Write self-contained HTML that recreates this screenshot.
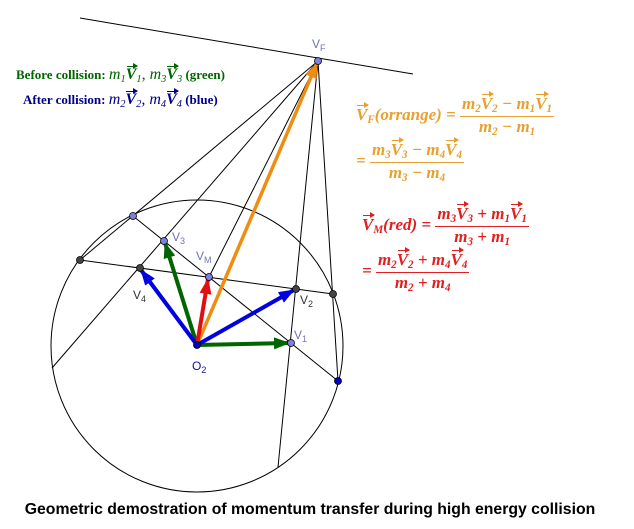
<!DOCTYPE html>
<html><head><meta charset="utf-8"><style>
body{margin:0;width:634px;height:529px;background:#fff;position:relative;overflow:hidden;font-family:"Liberation Serif",serif}
.a{position:absolute;white-space:nowrap}
.v{position:relative;display:inline-block;font-weight:bold;font-style:italic}
.v::before{content:"";position:absolute;left:1px;right:-1px;top:0px;border-top:1.3px solid currentColor}
.v::after{content:"";position:absolute;right:-2px;top:-3px;border-left:5px solid currentColor;border-top:3px solid transparent;border-bottom:3px solid transparent}
.fr{display:inline-block;vertical-align:middle;text-align:center}
.fr>span{display:block;padding:0 2px}
.fr>span.n{border-bottom:1.3px solid currentColor;padding-bottom:1px}
i{font-style:italic}
sub{font-size:65%;vertical-align:-3px}
.m{font-size:17px;font-style:italic;font-weight:bold}
.s{font-size:16px;font-style:italic}
</style></head><body>
<svg width="634" height="529" style="position:absolute;left:0;top:0">
<defs>
<marker id="ag" markerWidth="16" markerHeight="12" refX="15" refY="6" orient="auto" markerUnits="userSpaceOnUse"><path d="M0,0L16,6L0,12z" fill="#006400"/></marker>
<marker id="ab" markerWidth="16" markerHeight="12" refX="15" refY="6" orient="auto" markerUnits="userSpaceOnUse"><path d="M0,0L16,6L0,12z" fill="#0000e0"/></marker>
<marker id="ar" markerWidth="16" markerHeight="12" refX="15" refY="6" orient="auto" markerUnits="userSpaceOnUse"><path d="M0,0L16,6L0,12z" fill="#e01010"/></marker>
<marker id="ao" markerWidth="16" markerHeight="12" refX="15" refY="6" orient="auto" markerUnits="userSpaceOnUse"><path d="M0,0L16,6L0,12z" fill="#f08c10"/></marker>
</defs>
<g stroke="#000" stroke-width="1" fill="none">
<circle cx="197" cy="346" r="146"/>
<line x1="80" y1="18" x2="413" y2="74"/>
<line x1="318" y1="61" x2="80" y2="260"/>
<line x1="318" y1="61" x2="52" y2="368"/>
<line x1="318" y1="61" x2="209" y2="277"/>
<line x1="318" y1="61" x2="278" y2="467"/>
<line x1="318" y1="61" x2="338" y2="381"/>
<line x1="80" y1="260" x2="333" y2="294"/>
<line x1="133" y1="216" x2="338" y2="381"/>
</g>
<g stroke-width="4" fill="none">
<line x1="197" y1="345" x2="317" y2="63" stroke="#f08c10" marker-end="url(#ao)" stroke-width="3.5"/>
<line x1="197" y1="345" x2="289" y2="343" stroke="#006400" marker-end="url(#ag)"/>
<line x1="197" y1="345" x2="165" y2="243" stroke="#006400" marker-end="url(#ag)"/>
<line x1="197" y1="345" x2="294" y2="290" stroke="#0000e0" marker-end="url(#ab)"/>
<line x1="197" y1="345" x2="141" y2="270" stroke="#0000e0" marker-end="url(#ab)"/>
<line x1="197" y1="345" x2="208" y2="279" stroke="#e01010" marker-end="url(#ar)"/>
</g>
<g stroke="#000" stroke-width="0.8">
<circle cx="318" cy="61" r="3.5" fill="#7f7fe0"/>
<circle cx="291" cy="343" r="3.5" fill="#7f7fe0"/>
<circle cx="164" cy="241" r="3.5" fill="#7f7fe0"/>
<circle cx="209" cy="277" r="3.5" fill="#7f7fe0"/>
<circle cx="133" cy="216" r="3.5" fill="#7f7fe0"/>
<circle cx="296" cy="289" r="3.5" fill="#444"/>
<circle cx="140" cy="268" r="3.5" fill="#444"/>
<circle cx="80" cy="260" r="3.5" fill="#444"/>
<circle cx="333" cy="294" r="3.5" fill="#444"/>
<circle cx="338" cy="381" r="3.5" fill="#0000c0"/>
<circle cx="197" cy="345" r="3.5" fill="#0000c0"/>
</g>
<g font-family="Liberation Sans, sans-serif" font-size="12">
<text x="312" y="48" fill="#7070c0">V<tspan font-size="9" dy="3">F</tspan></text>
<text x="172" y="241" fill="#7070c0">V<tspan font-size="9" dy="3">3</tspan></text>
<text x="196" y="260" fill="#7070c0">V<tspan font-size="9" dy="3">M</tspan></text>
<text x="133" y="299" fill="#333">V<tspan font-size="9" dy="3">4</tspan></text>
<text x="300" y="304" fill="#333">V<tspan font-size="9" dy="3">2</tspan></text>
<text x="294" y="339" fill="#7070c0">V<tspan font-size="9" dy="3">1</tspan></text>
<text x="192" y="370" fill="#1010a0">O<tspan font-size="9" dy="3">2</tspan></text>
</g>
<text x="310" y="514" text-anchor="middle" font-family="Liberation Sans, sans-serif" font-weight="bold" font-size="15.8" fill="#000">Geometric demostration of momentum transfer during high energy collision</text>
</svg>

<div class="a" style="left:16px;top:66px;color:#006400;font-weight:bold;font-size:13px">Before collision: <span class="s" style="font-weight:normal"><i>m</i><sub>1</sub><span class="v">V</span><sub>1</sub>, <i>m</i><sub>3</sub><span class="v">V</span><sub>3</sub></span> (green)</div>
<div class="a" style="left:23px;top:91px;color:#00008b;font-weight:bold;font-size:13px">After collision: <span class="s" style="font-weight:normal"><i>m</i><sub>2</sub><span class="v">V</span><sub>2</sub>, <i>m</i><sub>4</sub><span class="v">V</span><sub>4</sub></span> (blue)</div>

<div class="a m" style="left:356px;top:94px;color:#e8a030"><span class="v">V</span><sub>F</sub>(<i>orrange</i>) = <span class="fr"><span class="n"><i>m</i><sub>2</sub><span class="v">V</span><sub>2</sub> − <i>m</i><sub>1</sub><span class="v">V</span><sub>1</sub></span><span><i>m</i><sub>2</sub> − <i>m</i><sub>1</sub></span></span></div>
<div class="a m" style="left:356px;top:140px;color:#e8a030">= <span class="fr"><span class="n"><i>m</i><sub>3</sub><span class="v">V</span><sub>3</sub> − <i>m</i><sub>4</sub><span class="v">V</span><sub>4</sub></span><span><i>m</i><sub>3</sub> − <i>m</i><sub>4</sub></span></span></div>
<div class="a m" style="left:362px;top:204px;color:#e02020"><span class="v">V</span><sub>M</sub>(<i>red</i>) = <span class="fr"><span class="n"><i>m</i><sub>3</sub><span class="v">V</span><sub>3</sub> + <i>m</i><sub>1</sub><span class="v">V</span><sub>1</sub></span><span><i>m</i><sub>3</sub> + <i>m</i><sub>1</sub></span></span></div>
<div class="a m" style="left:362px;top:250px;color:#e02020">= <span class="fr"><span class="n"><i>m</i><sub>2</sub><span class="v">V</span><sub>2</sub> + <i>m</i><sub>4</sub><span class="v">V</span><sub>4</sub></span><span><i>m</i><sub>2</sub> + <i>m</i><sub>4</sub></span></span></div>
</body></html>
